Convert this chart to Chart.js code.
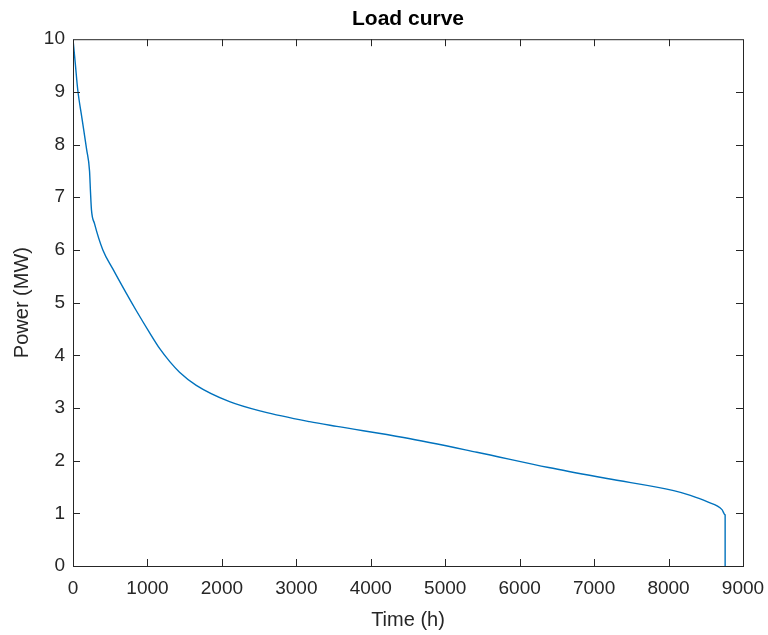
<!DOCTYPE html>
<html>
<head>
<meta charset="utf-8">
<script src="https://cdn.jsdelivr.net/npm/chart.js@4"></script>
<style>
  html,body{margin:0;padding:0;background:#fff;}
  #wrap{width:768px;height:635px;}
</style>
</head>
<body>
<div id="wrap"><canvas id="loadChart" width="768" height="635"></canvas></div>
<script>
// values
var timeHours = [0, 30, 63, 120, 184, 222, 235, 248, 289, 401, 535, 715, 849, 1028, 1163, 1300, 1431, 1656, 2103, 2551, 3178, 3544, 4440, 5426, 6389, 7173, 8069, 8293, 8517, 8718, 8760, 8760];
var powerMW   = [10, 9.55, 9.05, 8.5, 7.9, 7.5, 7.1, 6.76, 6.5, 6.0, 5.64, 5.18, 4.85, 4.43, 4.13, 3.88, 3.68, 3.43, 3.12, 2.93, 2.74, 2.65, 2.44, 2.16, 1.87, 1.66, 1.43, 1.34, 1.22, 1.07, 0.97, 0];
var xTicks = [0, 1000, 2000, 3000, 4000, 5000, 6000, 7000, 8000, 9000];
var yTicks = [0, 1, 2, 3, 4, 5, 6, 7, 8, 9, 10];

const axisColor = '#262626';
const fontName = "'Liberation Sans', Arial, sans-serif";

var points = [];
for(var i=0;i<timeHours.length;i++){
  points.push({x: timeHours[i], y: powerMW[i]});
}

// matlab style box with the ticks pointing inside
const boxPlugin = {
  id: 'boxTicks',
  afterDraw: function(chart){
    const ctx = chart.ctx;
    const a = chart.chartArea;
    const xs = chart.scales.x;
    const ys = chart.scales.y;
    const len = 7;
    ctx.save();
    ctx.strokeStyle = axisColor;
    ctx.lineWidth = 1;
    ctx.strokeRect(a.left+0.5, a.top+0.5, a.right-a.left, a.bottom-a.top);
    ctx.beginPath();
    xTicks.forEach(function(v){
      const px = Math.round(xs.getPixelForValue(v))+0.5;
      if(px < a.left+2 || px > a.right-2) return;
      ctx.moveTo(px, a.bottom); ctx.lineTo(px, a.bottom-len);
      ctx.moveTo(px, a.top); ctx.lineTo(px, a.top+len);
    });
    yTicks.forEach(function(v){
      const py = Math.round(ys.getPixelForValue(v))+0.5;
      if(py < a.top+2 || py > a.bottom-2) return;
      ctx.moveTo(a.left, py); ctx.lineTo(a.left+len, py);
      ctx.moveTo(a.right, py); ctx.lineTo(a.right-len, py);
    });
    ctx.stroke();
    ctx.restore();
  }
};

var ctx = document.getElementById('loadChart').getContext('2d');
var myChart = new Chart(ctx, {
  type: 'scatter',
  data: {
    datasets: [{
      label: 'Load',
      data: points,
      showLine: true,
      borderColor: '#0072BD',
      borderWidth: 1.4,
      pointRadius: 0,
      cubicInterpolationMode: 'monotone',
      fill: false
    }]
  },
  options: {
    responsive: false,
    animation: false,
    layout: { padding: { left: 0, right: 25, top: 0, bottom: 0 } },
    plugins: {
      legend: { display: false },
      tooltip: { enabled: false },
      title: {
        display: true,
        text: 'Load curve',
        fullSize: false,
        color: '#000',
        font: { family: fontName, size: 21, weight: 'bold' },
        padding: { top: 7, bottom: 7 }
      }
    },
    scales: {
      x: {
        type: 'linear',
        min: 0,
        max: 9000,
        afterFit: function(scale){
          scale.height = 69;
          scale.paddingLeft = 0;
          scale.paddingRight = 0;
        },
        afterBuildTicks: function(scale){ scale.ticks = xTicks.map(v => ({value: v})); },
        grid: { display: false, drawTicks: false },
        border: { display: false },
        ticks: {
          color: axisColor,
          padding: 11,
          maxRotation: 0,
          font: { family: fontName, size: 19 },
          callback: function(v){ return String(v); }
        },
        title: {
          display: true,
          text: 'Time (h)',
          color: axisColor,
          font: { family: fontName, size: 20 },
          padding: { top: 0, bottom: 3 }
        }
      },
      y: {
        type: 'linear',
        min: 0,
        max: 10,
        afterFit: function(scale){
          scale.width = 73;
          scale.paddingTop = 0;
          scale.paddingBottom = 0;
        },
        afterBuildTicks: function(scale){ scale.ticks = yTicks.map(v => ({value: v})); },
        grid: { display: false, drawTicks: false },
        border: { display: false },
        ticks: {
          color: axisColor,
          padding: 8,
          font: { family: fontName, size: 19 },
          callback: function(v){ return String(v); }
        },
        title: {
          display: true,
          text: 'Power (MW)',
          color: axisColor,
          font: { family: fontName, size: 20 },
          padding: { top: 10, bottom: 0 }
        }
      }
    }
  },
  plugins: [boxPlugin]
});
</script>
</body>
</html>
